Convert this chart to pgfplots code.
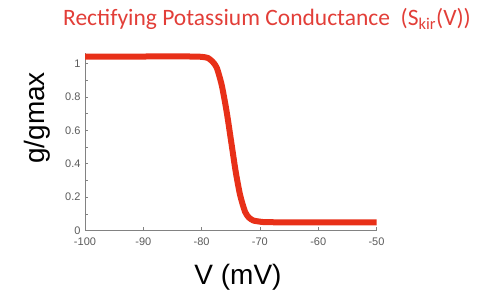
\documentclass[border=0pt]{standalone}
\usepackage{pgfplots}
\pgfplotsset{compat=1.18}
\usepackage{fontspec}
\setmainfont{Liberation Sans}
\newfontfamily\titlefont{Carlito}
\definecolor{curve}{RGB}{232,48,24}
\definecolor{titlered}{RGB}{226,62,56}
\definecolor{axgray}{RGB}{130,130,130}
\definecolor{labgray}{RGB}{90,90,90}
\begin{document}
\begin{tikzpicture}[x=1pt,y=1pt]
\path[use as bounding box] (0,0) rectangle (489,291);
\begin{axis}[
  at={(85pt,60.5pt)}, anchor=south west,
  scale only axis, width=291.5pt, height=177pt,
  xmin=-100, xmax=-50, ymin=0, ymax=1.06,
  axis x line=bottom, axis y line=left,
  axis line style={-, axgray, line width=0.7pt},
  xtick={-100,-90,-80,-70,-60,-50},
  ytick={0,0.2,0.4,0.6,0.8,1},
  minor y tick num=1,
  tick align=inside,
  major tick length=3pt, minor tick length=2.5pt,
  tick style={axgray, line width=0.6pt},
  ticklabel style={font=\fontsize{11}{11}\selectfont, text=labgray},
  xticklabel style={yshift=-4pt},
  yticklabel style={xshift=-1pt},
  /pgf/number format/assume math mode=true,
  clip=false,
]
\addplot[curve, line width=6pt, line join=round, smooth, tension=0.4] coordinates {
(-100,1.042) (-90,1.042) (-82,1.042) (-80,1.040) (-78.9,1.033) (-78.1,1.01)
(-77.4,0.975) (-76.55,0.871) (-75.7,0.711) (-74.84,0.512) (-74.15,0.352)
(-73.4,0.213) (-72.56,0.113) (-71.9,0.078) (-71.13,0.060) (-70,0.053)
(-69.1,0.050) (-65,0.049) (-50,0.049)
};
\end{axis}
\node[font=\fontsize{28}{28}\selectfont] at (238,14) {V (mV)};
\node[font=\fontsize{28}{28}\selectfont, rotate=90] at (37,173) {g/gmax};
\node[font=\titlefont\fontsize{23.5}{23.5}\selectfont, text=titlered] at (267,272) {Rectifying Potassium Conductance\ \ (S\textsubscript{kir}(V))};
\end{tikzpicture}
\end{document}
